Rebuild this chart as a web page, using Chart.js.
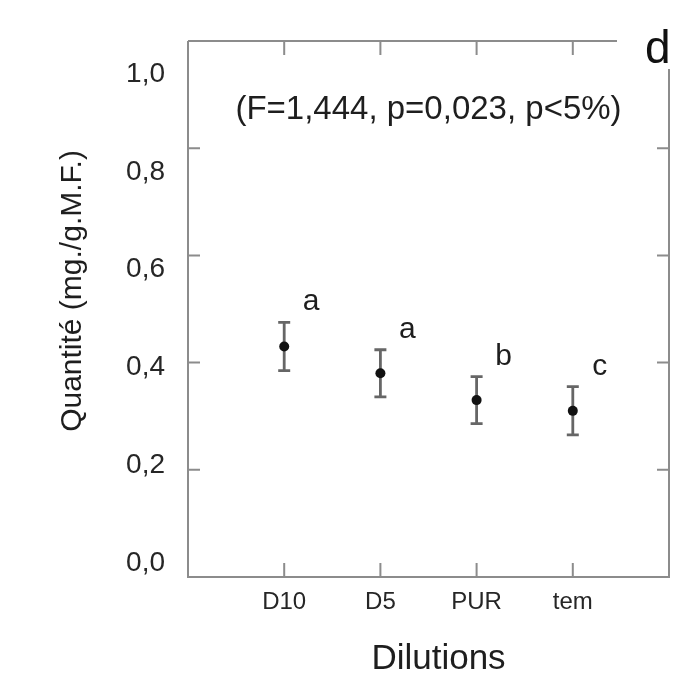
<!DOCTYPE html>
<html>
<head>
<meta charset="utf-8">
<script src="https://cdn.jsdelivr.net/npm/chart.js@4"></script>
<style>
  html, body { margin: 0; padding: 0; background: #fff; }
  canvas { display: block; }
</style>
</head>
<body>
<canvas id="chart" width="674" height="678"></canvas>
<script>
// Dilution treatments and measured quantity (mg/g fresh matter), mean ± error
const categories = ['D10', 'D5', 'PUR', 'tem'];
const means = [0.43, 0.38, 0.33, 0.31];
const errors = [0.045, 0.044, 0.044, 0.045];
// Significance groups from the post-hoc test
const groups = ['a', 'a', 'b', 'c'];
const yTicks = [0, 0.2, 0.4, 0.6, 0.8, 1.0];
const statsNote = '(F=1,444, p=0,023, p<5%)';
const panelTag = 'd';
const xTitle = 'Dilutions';
const yTitle = 'Quantité (mg./g.M.F.)';

const FONT = '"Liberation Sans", Arial, Helvetica, sans-serif';
const FRAME = '#8c8c8c';
const INK = '#1e1e1e';

// Box frame with inward ticks, error bars and annotation text
const decorations = {
  id: 'decorations',
  beforeDatasetsDraw(chart) {
    const { ctx, chartArea: a, scales: { x, y } } = chart;
    ctx.save();
    ctx.strokeStyle = FRAME;
    ctx.lineWidth = 2;
    ctx.beginPath();
    ctx.moveTo(a.left, a.top);
    ctx.lineTo(a.left, a.bottom);
    ctx.lineTo(a.right, a.bottom);
    ctx.lineTo(a.right, a.top + 28);
    ctx.moveTo(a.left, a.top);
    ctx.lineTo(a.right - 52, a.top);
    x.ticks.forEach(t => {
      const px = x.getPixelForValue(t.value);
      ctx.moveTo(px, a.top); ctx.lineTo(px, a.top + 14);
      ctx.moveTo(px, a.bottom); ctx.lineTo(px, a.bottom - 14);
    });
    yTicks.slice(1, -1).forEach(v => {
      const py = y.getPixelForValue(v);
      ctx.moveTo(a.left, py); ctx.lineTo(a.left + 12, py);
      ctx.moveTo(a.right, py); ctx.lineTo(a.right - 12, py);
    });
    ctx.stroke();

    // error bars
    ctx.strokeStyle = '#666';
    ctx.lineWidth = 2.8;
    ctx.beginPath();
    means.forEach((m, i) => {
      const px = x.getPixelForValue(i + 1);
      const top = y.getPixelForValue(m + errors[i]);
      const bot = y.getPixelForValue(m - errors[i]);
      ctx.moveTo(px, top); ctx.lineTo(px, bot);
      ctx.moveTo(px - 6, top); ctx.lineTo(px + 6, top);
      ctx.moveTo(px - 6, bot); ctx.lineTo(px + 6, bot);
    });
    ctx.stroke();
    ctx.restore();
  },
  afterDraw(chart) {
    const { ctx, chartArea: a, scales: { x, y } } = chart;
    ctx.save();
    ctx.fillStyle = INK;
    ctx.textBaseline = 'alphabetic';

    // group letters above each error bar
    ctx.textAlign = 'center';
    ctx.font = `30px ${FONT}`;
    groups.forEach((g, i) => {
      const px = x.getPixelForValue(i + 1);
      const top = y.getPixelForValue(means[i] + errors[i]);
      ctx.fillText(g, px + 27, top - 12);
    });

    // ANOVA note
    ctx.font = `33px ${FONT}`;
    ctx.fillText(statsNote, (a.left + a.right) / 2, a.top + 78);

    // panel tag
    ctx.textAlign = 'left';
    ctx.fillStyle = '#111';
    ctx.font = `46px ${FONT}`;
    ctx.fillText(panelTag, a.right - 24, a.top + 22);

    // axis titles
    ctx.fillStyle = INK;
    ctx.textAlign = 'center';
    ctx.font = `35px ${FONT}`;
    ctx.fillText(xTitle, (a.left + a.right) / 2 + 10, a.bottom + 92);

    ctx.translate(81, (a.top + a.bottom) / 2 - 18);
    ctx.rotate(-Math.PI / 2);
    ctx.font = `30px ${FONT}`;
    ctx.fillText(yTitle, 0, 0);
    ctx.restore();
  }
};

new Chart(document.getElementById('chart'), {
  type: 'scatter',
  data: {
    datasets: [{
      data: means.map((m, i) => ({ x: i + 1, y: m })),
      pointRadius: 5,
      pointHoverRadius: 5,
      backgroundColor: '#111',
      borderWidth: 0,
      yAxisID: 'y'
    }]
  },
  options: {
    responsive: false,
    animation: false,
    devicePixelRatio: 1,
    layout: { padding: { top: 41, right: 2, bottom: 0, left: 0 } },
    plugins: { legend: { display: false }, tooltip: { enabled: false } },
    scales: {
      x: {
        type: 'linear', position: 'bottom', min: 0, max: 5,
        afterBuildTicks: s => { s.ticks = categories.map((_, i) => ({ value: i + 1 })); },
        afterFit: s => { s.height = 101; },
        ticks: {
          callback: v => categories[v - 1] ?? '',
          font: { family: FONT, size: 24 }, color: '#262626',
          padding: 11, maxRotation: 0, autoSkip: false
        },
        grid: { display: false, drawTicks: false },
        border: { display: false }
      },
      y: { type: 'linear', min: 0, max: 1, display: false },
      yl: {
        type: 'linear', position: 'left', min: -0.0286, max: 1.0675,
        afterBuildTicks: s => { s.ticks = yTicks.map(v => ({ value: v })); },
        afterFit: s => { s.width = 188; },
        ticks: {
          callback: v => v.toFixed(1).replace('.', ','),
          font: { family: FONT, size: 28 }, color: '#262626', padding: 23
        },
        grid: { display: false, drawTicks: false },
        border: { display: false }
      }
    }
  },
  plugins: [decorations]
});
</script>
</body>
</html>
